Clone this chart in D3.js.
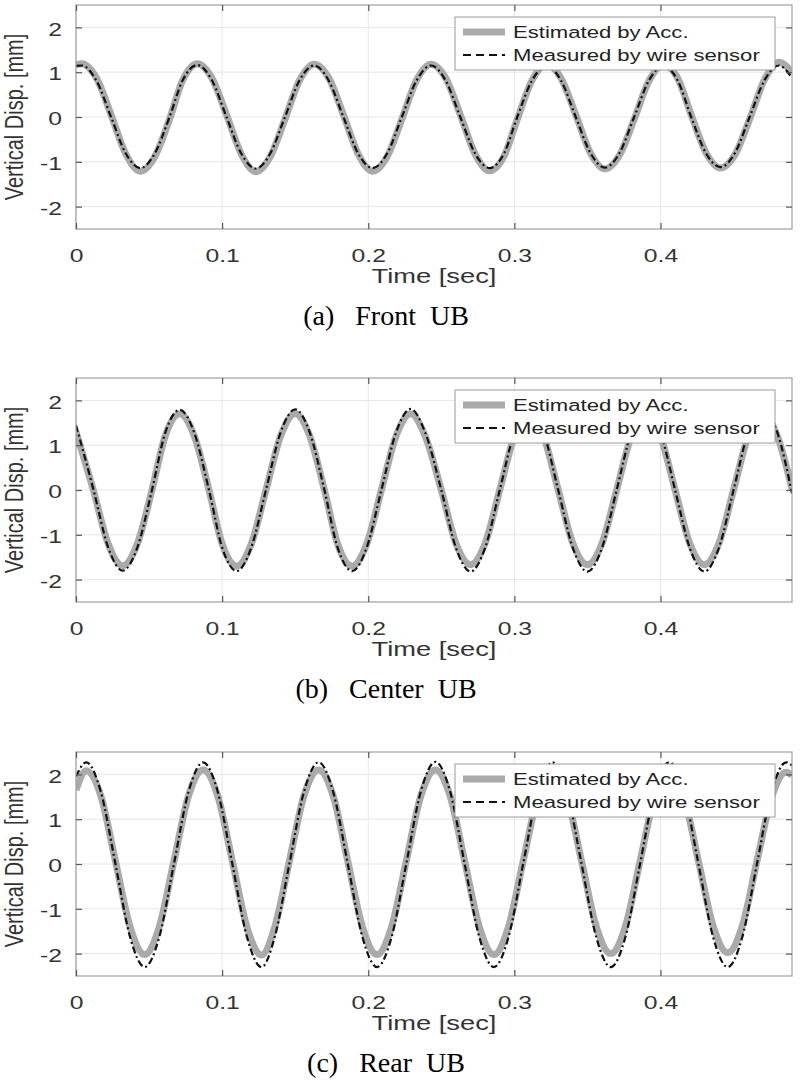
<!DOCTYPE html>
<html>
<head>
<meta charset="utf-8">
<script src="https://cdn.jsdelivr.net/npm/d3@7"></script>
<style>
  body { margin: 0; background: #fff; }
  svg { display: block; }
</style>
</head>
<body>
<div id="chart"></div>
<script>
// time [sec] and vertical displacement [mm]
// (samples every ~1/8 period: peaks, troughs, zero crossings and between)
const timeFront = [0, 0.004, 0.014, 0.024, 0.034, 0.044, 0.054, 0.064, 0.073, 0.083, 0.093, 0.103, 0.113, 0.123, 0.133, 0.143, 0.153, 0.163, 0.173, 0.183, 0.193, 0.203, 0.213, 0.223, 0.233, 0.243, 0.253, 0.263, 0.273, 0.283, 0.293, 0.302, 0.312, 0.322, 0.332, 0.342, 0.352, 0.362, 0.372, 0.382, 0.392, 0.402, 0.412, 0.421, 0.431, 0.441, 0.451, 0.461, 0.471, 0.481, 0.49];
const estFront  = [1.17, 1.19, 0.87, 0.05, -0.82, -1.21, -0.88, -0.05, 0.82, 1.19, 0.87, 0.05, -0.82, -1.22, -0.88, -0.05, 0.82, 1.18, 0.87, 0.05, -0.82, -1.21, -0.88, -0.05, 0.82, 1.18, 0.87, 0.05, -0.82, -1.2, -0.87, -0.05, 0.81, 1.17, 0.86, 0.05, -0.8, -1.16, -0.85, -0.05, 0.8, 1.16, 0.85, 0.05, -0.79, -1.14, -0.84, -0.05, 0.82, 1.22, 1.0];
const measFront = [1.14, 1.15, 0.81, 0, -0.81, -1.14, -0.81, 0, 0.82, 1.16, 0.82, 0, -0.81, -1.15, -0.81, 0, 0.82, 1.15, 0.81, 0, -0.81, -1.14, -0.81, 0, 0.81, 1.15, 0.81, 0, -0.81, -1.14, -0.81, 0, 0.81, 1.14, 0.81, 0, -0.8, -1.13, -0.8, 0, 0.81, 1.14, 0.8, 0, -0.8, -1.12, -0.8, 0, 0.81, 1.15, 0.87];

const timeCenter = [0, 0.012, 0.022, 0.032, 0.042, 0.052, 0.061, 0.071, 0.081, 0.091, 0.100, 0.110, 0.120, 0.130, 0.140, 0.150, 0.160, 0.170, 0.179, 0.189, 0.199, 0.209, 0.219, 0.229, 0.239, 0.250, 0.260, 0.270, 0.280, 0.290, 0.300, 0.310, 0.320, 0.330, 0.340, 0.350, 0.360, 0.370, 0.380, 0.390, 0.400, 0.410, 0.420, 0.430, 0.440, 0.450, 0.460, 0.470, 0.480, 0.490];
const estCenter  = [1.3, -0.02, -1.2, -1.69, -1.2, 0, 1.2, 1.7, 1.2, 0, -1.2, -1.7, -1.2, 0, 1.2, 1.7, 1.2, 0, -1.2, -1.7, -1.2, 0, 1.2, 1.7, 1.2, 0, -1.19, -1.67, -1.19, 0, 1.2, 1.7, 1.2, 0, -1.19, -1.67, -1.19, 0, 1.2, 1.7, 1.2, 0, -1.19, -1.67, -1.19, 0, 1.2, 1.7, 1.2, 0.02];
const measCenter = [1.45, 0, -1.28, -1.8, -1.28, 0, 1.27, 1.79, 1.27, 0, -1.28, -1.81, -1.28, 0, 1.28, 1.8, 1.28, 0, -1.28, -1.81, -1.28, 0, 1.28, 1.81, 1.28, 0, -1.29, -1.82, -1.29, 0, 1.28, 1.8, 1.28, 0, -1.29, -1.82, -1.29, 0, 1.28, 1.8, 1.28, 0, -1.29, -1.82, -1.29, 0, 1.28, 1.8, 1.28, -0.08];

const timeRear = [0, 0.007, 0.017, 0.027, 0.037, 0.047, 0.057, 0.067, 0.077, 0.087, 0.097, 0.107, 0.117, 0.127, 0.136, 0.146, 0.156, 0.166, 0.176, 0.186, 0.196, 0.206, 0.216, 0.226, 0.236, 0.246, 0.256, 0.266, 0.276, 0.286, 0.296, 0.306, 0.316, 0.326, 0.336, 0.346, 0.356, 0.366, 0.376, 0.386, 0.396, 0.406, 0.416, 0.426, 0.436, 0.446, 0.456, 0.466, 0.476, 0.486, 0.49];
const estRear  = [1.65, 2.08, 1.52, 0.06, -1.4, -2.02, -1.4, 0.06, 1.52, 2.1, 1.52, 0.06, -1.41, -2.03, -1.41, 0.06, 1.52, 2.1, 1.52, 0.06, -1.4, -2.02, -1.4, 0.06, 1.52, 2.1, 1.52, 0.06, -1.4, -2.02, -1.4, 0.06, 1.5, 2.08, 1.5, 0.06, -1.39, -2.0, -1.39, 0.06, 1.5, 2.08, 1.5, 0.06, -1.38, -1.98, -1.38, 0.06, 1.48, 2.05, 1.98];
const measRear = [1.95, 2.27, 1.61, 0, -1.63, -2.3, -1.63, 0, 1.61, 2.27, 1.61, 0, -1.63, -2.3, -1.63, 0, 1.61, 2.27, 1.61, 0, -1.63, -2.3, -1.63, 0, 1.62, 2.28, 1.62, 0, -1.63, -2.3, -1.63, 0, 1.61, 2.27, 1.61, 0, -1.63, -2.3, -1.63, 0, 1.61, 2.27, 1.61, 0, -1.63, -2.3, -1.63, 0, 1.61, 2.27, 2.2];

const captions = ["(a)   Front  UB", "(b)   Center  UB", "(c)   Rear  UB"];
const xTicks = [0, 0.1, 0.2, 0.3, 0.4];
const yTicks = [-2, -1, 0, 1, 2];
const legendLabels = ["Estimated by Acc.", "Measured by wire sensor"];
const xLabel = "Time [sec]";
const yLabel = "Vertical Disp. [mm]";

const panels = [
    {time: timeFront, est: estFront, meas: measFront, caption: captions[0]},
    {time: timeCenter, est: estCenter, meas: measCenter, caption: captions[1]},
    {time: timeRear, est: estRear, meas: measRear, caption: captions[2]}
];

const width = 800, height = 1087;
const left = 76, right = 792, plotH = 224;
const tops = [5, 378, 752];
const sx = 1.3; // the source figure is stretched horizontally
const sans = "'Liberation Sans', Arial, Helvetica, sans-serif";
const serif = "'Liberation Serif', 'Times New Roman', serif";
const grayLine = "#aaaaaa";

const svg = d3.select("#chart").append("svg")
    .attr("width", width)
    .attr("height", height);

const x = d3.scaleLinear().domain([0, 0.49]).range([left, right]);

panels.forEach((p, i) => {
    const top = tops[i];
    const y = d3.scaleLinear().domain([-2.5, 2.5]).range([top + plotH, top]);
    const g = svg.append("g");

    // grid
    g.append("g").selectAll("line").data(xTicks).join("line")
        .attr("x1", d => x(d)).attr("x2", d => x(d))
        .attr("y1", top).attr("y2", top + plotH)
        .attr("stroke", "#e6e6e6");
    g.append("g").selectAll("line").data(yTicks).join("line")
        .attr("x1", left).attr("x2", right)
        .attr("y1", d => y(d)).attr("y2", d => y(d))
        .attr("stroke", "#e6e6e6");

    // clip to the axes box
    const clipId = "clip" + i;
    svg.append("clipPath").attr("id", clipId)
        .append("rect")
        .attr("x", left).attr("y", top)
        .attr("width", right - left).attr("height", plotH);

    const line = d3.line()
        .x((d, j) => x(p.time[j]))
        .y(d => y(d))
        .curve(d3.curveMonotoneX);

    g.append("path")
        .attr("d", line(p.est))
        .attr("fill", "none")
        .attr("stroke", grayLine)
        .attr("stroke-width", 7)
        .attr("stroke-linejoin", "round")
        .attr("clip-path", `url(#${clipId})`);

    g.append("path")
        .attr("d", line(p.meas))
        .attr("fill", "none")
        .attr("stroke", "#111")
        .attr("stroke-width", 2.2)
        .attr("stroke-dasharray", "7,3,2,3")
        .attr("clip-path", `url(#${clipId})`);

    // box
    g.append("rect")
        .attr("x", left).attr("y", top)
        .attr("width", right - left).attr("height", plotH)
        .attr("fill", "none")
        .attr("stroke", "#a0a0a0")
        .attr("stroke-width", 1.2);

    // axes (ticks point inward, like matlab)
    const xAxis = g.append("g")
        .attr("transform", `translate(0,${top + plotH})`)
        .call(d3.axisBottom(x).tickValues(xTicks).tickFormat(String)
            .tickSize(-6).tickSizeOuter(0).tickPadding(19.5));
    const xTop = g.append("g")
        .attr("transform", `translate(0,${top})`)
        .call(d3.axisTop(x).tickValues(xTicks).tickFormat("")
            .tickSize(-6).tickSizeOuter(0));
    const yAxis = g.append("g")
        .attr("transform", `translate(${left},0)`)
        .call(d3.axisLeft(y).tickValues(yTicks).tickFormat(String)
            .tickSize(-6).tickSizeOuter(0));
    const yRight = g.append("g")
        .attr("transform", `translate(${right},0)`)
        .call(d3.axisRight(y).tickValues(yTicks).tickFormat("")
            .tickSize(-6).tickSizeOuter(0));

    [xAxis, xTop, yAxis, yRight].forEach(a => {
        a.select(".domain").remove();
        a.selectAll("line").attr("stroke", "#555").attr("stroke-width", 1.2);
        a.attr("font-size", 19).attr("font-family", sans);
    });
    xAxis.selectAll("text")
        .attr("fill", "#333")
        .attr("transform", `scale(${sx},1)`);
    yAxis.selectAll("text")
        .attr("fill", "#333")
        .attr("x", -14 / sx)
        .attr("dy", "0.4em")
        .attr("transform", `scale(${sx},1)`);

    // axis labels
    g.append("text")
        .attr("transform", `translate(${(left + right) / 2},${top + 278}) scale(${sx},1)`)
        .attr("text-anchor", "middle")
        .attr("font-family", sans)
        .attr("font-size", 21)
        .attr("fill", "#333")
        .text(xLabel);

    g.append("text")
        .attr("transform", `translate(23,${top + 112}) scale(${sx},1) rotate(-90)`)
        .attr("text-anchor", "middle")
        .attr("font-family", sans)
        .attr("font-size", 20)
        .attr("fill", "#333")
        .text(yLabel);

    // legend
    const lg = g.append("g");
    lg.append("rect")
        .attr("x", 455).attr("y", top + 12)
        .attr("width", 320).attr("height", 53)
        .attr("fill", "#fff")
        .attr("stroke", "#9a9a9a")
        .attr("stroke-width", 1);
    lg.append("line")
        .attr("x1", 463).attr("x2", 505)
        .attr("y1", top + 27).attr("y2", top + 27)
        .attr("stroke", grayLine).attr("stroke-width", 7);
    lg.append("line")
        .attr("x1", 463).attr("x2", 505)
        .attr("y1", top + 50).attr("y2", top + 50)
        .attr("stroke", "#111").attr("stroke-width", 2)
        .attr("stroke-dasharray", "8,5");
    lg.selectAll("text").data(legendLabels).join("text")
        .attr("transform", (d, k) => `translate(513,${top + 33 + k * 23}) scale(${sx},1)`)
        .attr("font-family", sans)
        .attr("font-size", 17)
        .attr("fill", "#222")
        .text(d => d);

    // caption
    g.append("text")
        .attr("x", 386).attr("y", top + 320)
        .attr("text-anchor", "middle")
        .attr("font-family", serif)
        .attr("font-size", 28)
        .attr("fill", "#000")
        .style("white-space", "pre")
        .text(p.caption);
});
</script>
</body>
</html>
